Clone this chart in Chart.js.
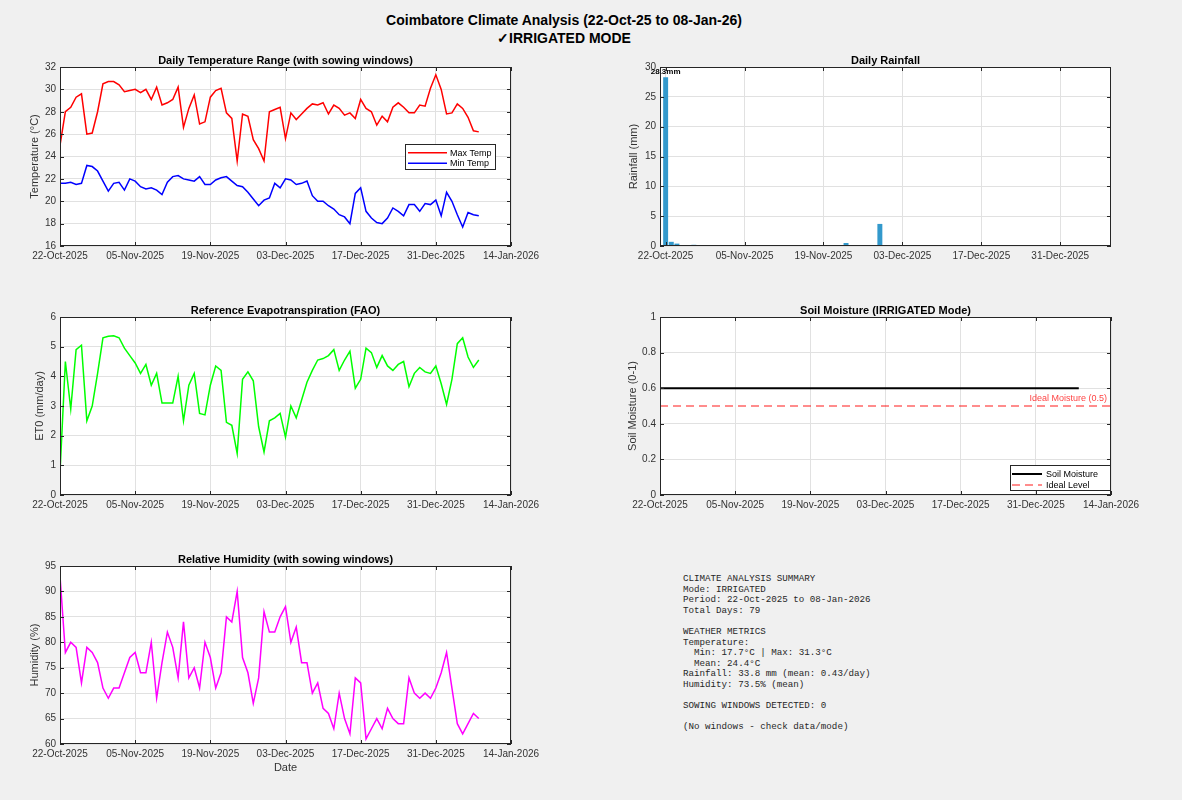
<!DOCTYPE html>
<html>
<head>
<meta charset="utf-8">
<script src="https://cdn.jsdelivr.net/npm/chart.js@4.4.1/dist/chart.umd.min.js"></script>
<style>
  body { margin: 0; background: #f0f0f0; width: 1182px; height: 800px; position: relative; overflow: hidden;
         font-family: "Liberation Sans", Arial, Helvetica, sans-serif; }
  canvas { position: absolute; }
  .title { position: absolute; left: 0; width: 1128px; text-align: center; font-weight: bold;
           font-size: 14px; line-height: 16px; color: #000; }
  #summary { position: absolute; left: 683px; top: 574px; margin: 0; font-family: "Liberation Mono", "DejaVu Sans Mono", monospace;
             font-size: 9.2px; line-height: 10.6px; color: #262626; }
</style>
</head>
<body>
<div class="title" style="top:12px">Coimbatore Climate Analysis (22-Oct-25 to 08-Jan-26)</div>
<div class="title" style="top:30px">✓IRRIGATED MODE</div>

<canvas id="tempChart"></canvas>
<canvas id="rainChart"></canvas>
<canvas id="et0Chart"></canvas>
<canvas id="soilChart"></canvas>
<canvas id="humChart"></canvas>

<pre id="summary">CLIMATE ANALYSIS SUMMARY
Mode: IRRIGATED
Period: 22-Oct-2025 to 08-Jan-2026
Total Days: 79

WEATHER METRICS
Temperature:
  Min: 17.7°C | Max: 31.3°C
  Mean: 24.4°C
Rainfall: 33.8 mm (mean: 0.43/day)
Humidity: 73.5% (mean)

SOWING WINDOWS DETECTED: 0

(No windows - check data/mode)</pre>

<script>
// dias contados desde el 22-Oct-2025
const startDate = Date.UTC(2025, 9, 22);
const tickDays = [0, 14, 28, 42, 56, 70, 84];
const months = ['Jan', 'Feb', 'Mar', 'Apr', 'May', 'Jun', 'Jul', 'Aug', 'Sep', 'Oct', 'Nov', 'Dec'];

const maxTemp = [
  25.0, 28.0, 28.4, 29.3, 29.6, 26.0, 26.1, 28.0, 30.5, 30.7,
  30.7, 30.4, 29.8, 29.9, 30.0, 29.7, 30.0, 29.1, 30.2, 28.6,
  28.8, 29.1, 30.2, 26.6, 28.3, 29.5, 26.9, 27.1, 29.3, 29.9,
  30.1, 27.9, 27.4, 23.6, 27.8, 27.6, 25.5, 24.7, 23.6, 28.0,
  28.2, 28.4, 25.6, 27.9, 27.3, 27.8, 28.3, 28.7, 28.6, 28.8,
  27.8, 28.6, 28.3, 27.7, 27.9, 27.4, 29.1, 28.3, 28.0, 26.8,
  27.6, 27.1, 28.4, 28.8, 28.4, 27.9, 27.9, 28.6, 28.5, 30.1,
  31.3, 30.0, 27.8, 27.9, 28.7, 28.3, 27.5, 26.3, 26.2
];
const minTemp = [
  21.6, 21.6, 21.7, 21.5, 21.6, 23.2, 23.1, 22.7, 21.8, 20.9,
  21.6, 21.7, 21.0, 22.0, 21.8, 21.3, 21.1, 21.2, 21.0, 20.6,
  21.7, 22.2, 22.3, 22.0, 21.9, 21.8, 22.2, 21.5, 21.5, 21.9,
  22.1, 22.2, 21.8, 21.4, 21.3, 20.8, 20.2, 19.6, 20.1, 20.3,
  21.6, 21.2, 22.0, 21.9, 21.5, 21.6, 21.8, 20.5, 20.0, 20.0,
  19.6, 19.3, 18.8, 18.6, 18.0, 20.7, 21.2, 19.1, 18.5, 18.1,
  18.0, 18.5, 19.4, 19.1, 18.7, 19.7, 19.7, 19.1, 19.8, 19.7,
  20.1, 18.7, 20.8, 20.0, 18.8, 17.7, 19.0, 18.8, 18.7
];
const et0 = [
  0.75, 4.5, 2.9, 4.9, 5.05, 2.5, 3.0, 4.1, 5.3, 5.35,
  5.37, 5.3, 4.95, 4.7, 4.45, 4.1, 4.4, 3.7, 4.1, 3.1,
  3.1, 3.1, 4.0, 2.5, 3.7, 4.1, 2.75, 2.7, 3.7, 4.35,
  4.2, 2.45, 2.35, 1.4, 3.9, 4.15, 3.85, 2.3, 1.45, 2.5,
  2.6, 2.75, 1.95, 3.0, 2.6, 3.2, 3.8, 4.2, 4.55, 4.6,
  4.7, 4.9, 4.2, 4.55, 4.85, 3.6, 3.9, 4.95, 4.8, 4.3,
  4.7, 4.35, 4.2, 4.4, 4.5, 3.65, 4.1, 4.3, 4.15, 4.1,
  4.35, 3.75, 3.05, 3.9, 5.1, 5.3, 4.65, 4.3, 4.55
];
const humidity = [
  93, 78, 80, 79, 72, 79, 78, 76, 71, 69,
  71, 71, 74, 77, 78, 74, 74, 80, 69, 76,
  82, 79, 73, 84, 73, 75, 71, 80, 77, 71,
  74, 85, 84, 90, 77, 74, 68, 73, 86, 82,
  82, 85, 87, 80, 83, 76, 76, 70, 72, 67,
  66, 63, 70, 65, 62, 73, 72, 61, 63, 65,
  63, 67, 65, 64, 64, 73, 70, 69, 70, 69,
  71, 74, 78, 71, 64, 62, 64, 66, 65
];
const rainfall = [
  28.3, 0.7, 0.4, 0, 0, 0.2, 0, 0, 0, 0,
  0, 0, 0, 0, 0, 0, 0, 0, 0, 0,
  0, 0, 0, 0, 0, 0, 0, 0, 0, 0,
  0, 0, 0.5, 0, 0, 0, 0, 0, 3.7, 0,
  0, 0, 0, 0, 0, 0, 0, 0, 0, 0,
  0, 0, 0, 0, 0, 0, 0, 0, 0, 0,
  0, 0, 0, 0, 0, 0, 0, 0, 0, 0,
  0, 0, 0, 0, 0, 0, 0, 0, 0
];
const soilMoisture = [
  0.6, 0.6, 0.6, 0.6, 0.6, 0.6, 0.6, 0.6, 0.6, 0.6,
  0.6, 0.6, 0.6, 0.6, 0.6, 0.6, 0.6, 0.6, 0.6, 0.6,
  0.6, 0.6, 0.6, 0.6, 0.6, 0.6, 0.6, 0.6, 0.6, 0.6,
  0.6, 0.6, 0.6, 0.6, 0.6, 0.6, 0.6, 0.6, 0.6, 0.6,
  0.6, 0.6, 0.6, 0.6, 0.6, 0.6, 0.6, 0.6, 0.6, 0.6,
  0.6, 0.6, 0.6, 0.6, 0.6, 0.6, 0.6, 0.6, 0.6, 0.6,
  0.6, 0.6, 0.6, 0.6, 0.6, 0.6, 0.6, 0.6, 0.6, 0.6,
  0.6, 0.6, 0.6, 0.6, 0.6, 0.6, 0.6, 0.6, 0.6
];
const idealMoisture = 0.5;

const FONT = '"Liberation Sans", Arial, Helvetica, sans-serif';
const TXT = '#333333';

function dayLabel(d) {
  const t = new Date(startDate + d * 86400000);
  return String(t.getUTCDate()).padStart(2, '0') + '-' + months[t.getUTCMonth()] + '-' + t.getUTCFullYear();
}

function points(values) {
  return values.map((v, i) => ({ x: i, y: v }));
}

// ejes estilo matlab: caja, marcas hacia dentro, titulo, leyenda
const matlabAxes = {
  id: 'matlabAxes',
  beforeDraw(chart) {
    const a = chart.chartArea, ctx = chart.ctx;
    ctx.save();
    ctx.fillStyle = '#ffffff';
    ctx.fillRect(a.left, a.top, a.right - a.left, a.bottom - a.top);
    ctx.restore();
  },
  afterDraw(chart, args, opts) {
    const a = chart.chartArea, ctx = chart.ctx;
    const xs = chart.scales.x, ys = chart.scales.y;
    ctx.save();
    ctx.strokeStyle = '#262626';
    ctx.lineWidth = 1;
    ctx.strokeRect(a.left + 0.5, a.top + 0.5, a.right - a.left - 1, a.bottom - a.top - 1);
    ctx.beginPath();
    xs.ticks.forEach(t => {
      const px = Math.round(xs.getPixelForValue(t.value)) + 0.5;
      ctx.moveTo(px, a.bottom); ctx.lineTo(px, a.bottom - 4);
      ctx.moveTo(px, a.top); ctx.lineTo(px, a.top + 4);
    });
    ys.ticks.forEach(t => {
      const py = Math.round(ys.getPixelForValue(t.value)) + 0.5;
      ctx.moveTo(a.left, py); ctx.lineTo(a.left + 4, py);
      ctx.moveTo(a.right, py); ctx.lineTo(a.right - 4, py);
    });
    ctx.stroke();

    ctx.fillStyle = '#000';
    ctx.font = 'bold 11px ' + FONT;
    ctx.textAlign = 'center';
    ctx.textBaseline = 'alphabetic';
    ctx.fillText(opts.title, (a.left + a.right) / 2, a.top - 3.5);

    if (opts.yLineLabel) {
      ctx.fillStyle = opts.yLineLabel.color;
      ctx.font = '9px ' + FONT;
      ctx.textAlign = 'right';
      ctx.fillText(opts.yLineLabel.text, a.right - 4, ys.getPixelForValue(opts.yLineLabel.value) - 5);
    }

    const lg = opts.legend;
    if (lg) {
      const bx = a.right - lg.right - lg.w, by = a.top + lg.top;
      ctx.fillStyle = '#ffffff';
      ctx.fillRect(bx, by, lg.w, lg.h);
      ctx.strokeStyle = '#262626';
      ctx.lineWidth = 1;
      ctx.strokeRect(Math.round(bx) + 0.5, Math.round(by) + 0.5, lg.w, lg.h);
      ctx.font = '9px ' + FONT;
      ctx.textAlign = 'left';
      ctx.textBaseline = 'middle';
      chart.data.datasets.forEach((ds, i) => {
        const yy = by + lg.rows[i];
        ctx.strokeStyle = ds.borderColor;
        ctx.lineWidth = ds.borderWidth;
        ctx.setLineDash(ds.borderDash || []);
        ctx.beginPath();
        ctx.moveTo(bx + lg.sampleStart, yy);
        ctx.lineTo(bx + lg.sampleStart + lg.sampleLen, yy);
        ctx.stroke();
        ctx.setLineDash([]);
        ctx.fillStyle = '#000';
        ctx.fillText(ds.label, bx + lg.textX, yy + 0.5);
      });
    }
    ctx.restore();
  }
};

// etiqueta del valor maximo de lluvia
const barLabel = {
  id: 'barLabel',
  afterDatasetsDraw(chart, args, opts) {
    if (!opts.show) return;
    const bar = chart.getDatasetMeta(0).data[opts.index];
    const ctx = chart.ctx;
    ctx.save();
    ctx.fillStyle = '#000';
    ctx.font = 'bold 8px ' + FONT;
    ctx.textAlign = 'center';
    ctx.textBaseline = 'alphabetic';
    ctx.fillText(rainfall[opts.index].toFixed(1) + 'mm', bar.x, bar.y - 3);
    ctx.restore();
  }
};

function crearGrafico(id, box, cfg) {
  const yw = 35, padTop = 22, padRight = 40;
  const xh = cfg.xTitle ? 32 : 20;
  const canvas = document.getElementById(id);
  canvas.width = (box.right - box.left) + yw + padRight;
  canvas.height = padTop + (box.bottom - box.top) + xh;
  canvas.style.left = (box.left - yw) + 'px';
  canvas.style.top = (box.top - padTop) + 'px';

  const xTicks = cfg.xTicks || tickDays;
  const yTickFmt = cfg.yTickFmt || (v => String(v));

  return new Chart(canvas.getContext('2d'), {
    type: cfg.type,
    data: { datasets: cfg.datasets },
    plugins: [matlabAxes, barLabel],
    options: {
      responsive: false,
      animation: false,
      devicePixelRatio: 1,
      layout: { padding: { left: 0, top: padTop, right: padRight, bottom: 0 } },
      plugins: {
        legend: { display: false },
        tooltip: { enabled: false },
        matlabAxes: { title: cfg.title, legend: cfg.legend || null, yLineLabel: cfg.yLineLabel || null },
        barLabel: { show: !!cfg.barLabel, index: 0 }
      },
      scales: {
        x: {
          type: 'linear',
          min: cfg.xMin, max: cfg.xMax,
          offset: false,
          afterBuildTicks(scale) { scale.ticks = xTicks.map(v => ({ value: v })); },
          afterFit(scale) { scale.height = xh; scale.paddingLeft = 0; scale.paddingRight = 0; },
          ticks: { callback: v => dayLabel(v), autoSkip: false, maxRotation: 0, padding: 4,
                   font: { family: FONT, size: 10 }, color: TXT },
          grid: { color: '#e1e1e1', drawTicks: false, offset: false },
          border: { display: false },
          title: { display: !!cfg.xTitle, text: cfg.xTitle || '', padding: { top: 0, bottom: 1.4 },
                   font: { family: FONT, size: 11 }, color: TXT }
        },
        y: {
          min: cfg.yMin, max: cfg.yMax,
          afterFit(scale) { scale.width = yw; scale.paddingTop = 0; scale.paddingBottom = 0; },
          ticks: { stepSize: cfg.yStep, padding: 4, callback: yTickFmt,
                   font: { family: FONT, size: 10 }, color: TXT },
          grid: { color: '#e1e1e1', drawTicks: false },
          border: { display: false },
          title: { display: true, text: cfg.yTitle, padding: { top: cfg.yTitlePad, bottom: 0 },
                   font: { family: FONT, size: 11 }, color: TXT }
        }
      }
    }
  });
}

document.addEventListener('DOMContentLoaded', function() {
  crearGrafico('tempChart', { left: 60, top: 67, right: 511, bottom: 246 }, {
    type: 'line',
    title: 'Daily Temperature Range (with sowing windows)',
    xMin: 0, xMax: 84,
    yMin: 16, yMax: 32, yStep: 2,
    yTitle: 'Temperature (°C)', yTitlePad: 3.4,
    datasets: [
      { label: 'Max Temp', data: points(maxTemp), borderColor: '#ff0000', borderWidth: 1.5, pointRadius: 0, tension: 0 },
      { label: 'Min Temp', data: points(minTemp), borderColor: '#0000ff', borderWidth: 1.5, pointRadius: 0, tension: 0 }
    ],
    legend: { right: 16, top: 77, w: 90, h: 25, rows: [8.7, 19.3], sampleStart: 3, sampleLen: 39, textX: 45 }
  });

  crearGrafico('rainChart', { left: 660, top: 67, right: 1111, bottom: 246 }, {
    type: 'bar',
    title: 'Daily Rainfall',
    xMin: -1, xMax: 79,
    xTicks: [0, 14, 28, 42, 56, 70],
    yMin: 0, yMax: 30, yStep: 5,
    yTitle: 'Rainfall (mm)', yTitlePad: 2.8,
    barLabel: true,
    datasets: [
      { label: 'Rainfall', data: points(rainfall), backgroundColor: '#3399cc', borderWidth: 0,
        barPercentage: 0.88, categoryPercentage: 1 }
    ]
  });

  crearGrafico('et0Chart', { left: 60, top: 317, right: 511, bottom: 495 }, {
    type: 'line',
    title: 'Reference Evapotranspiration (FAO)',
    xMin: 0, xMax: 84,
    yMin: 0, yMax: 6, yStep: 1,
    yTitle: 'ET0 (mm/day)', yTitlePad: 8.4,
    datasets: [
      { label: 'ET0', data: points(et0), borderColor: '#00ff00', borderWidth: 1.5, pointRadius: 0, tension: 0 }
    ]
  });

  crearGrafico('soilChart', { left: 660, top: 317, right: 1111, bottom: 495 }, {
    type: 'line',
    title: 'Soil Moisture (IRRIGATED Mode)',
    xMin: 0, xMax: 84,
    yMin: 0, yMax: 1, yStep: 0.2,
    yTickFmt: v => String(Math.round(v * 10) / 10),
    yTitle: 'Soil Moisture (0-1)', yTitlePad: 1.1,
    datasets: [
      { label: 'Soil Moisture', data: points(soilMoisture), borderColor: '#000000', borderWidth: 2, pointRadius: 0, tension: 0 },
      { label: 'Ideal Level', data: [{ x: 0, y: idealMoisture }, { x: 84, y: idealMoisture }],
        borderColor: 'rgba(255,0,0,0.6)', borderWidth: 1.5, borderDash: [8, 5], pointRadius: 0 }
    ],
    yLineLabel: { text: 'Ideal Moisture (0.5)', value: idealMoisture, color: 'rgba(255,0,0,0.75)' },
    legend: { right: 1, top: 148, w: 100, h: 25, rows: [9, 20], sampleStart: 2, sampleLen: 30, textX: 36 }
  });

  crearGrafico('humChart', { left: 60, top: 566, right: 511, bottom: 744 }, {
    type: 'line',
    title: 'Relative Humidity (with sowing windows)',
    xMin: 0, xMax: 84,
    yMin: 60, yMax: 95, yStep: 5,
    yTitle: 'Humidity (%)', yTitlePad: 3.4,
    xTitle: 'Date',
    datasets: [
      { label: 'Humidity', data: points(humidity), borderColor: '#ff00ff', borderWidth: 1.5, pointRadius: 0, tension: 0 }
    ]
  });
});
</script>
</body>
</html>
